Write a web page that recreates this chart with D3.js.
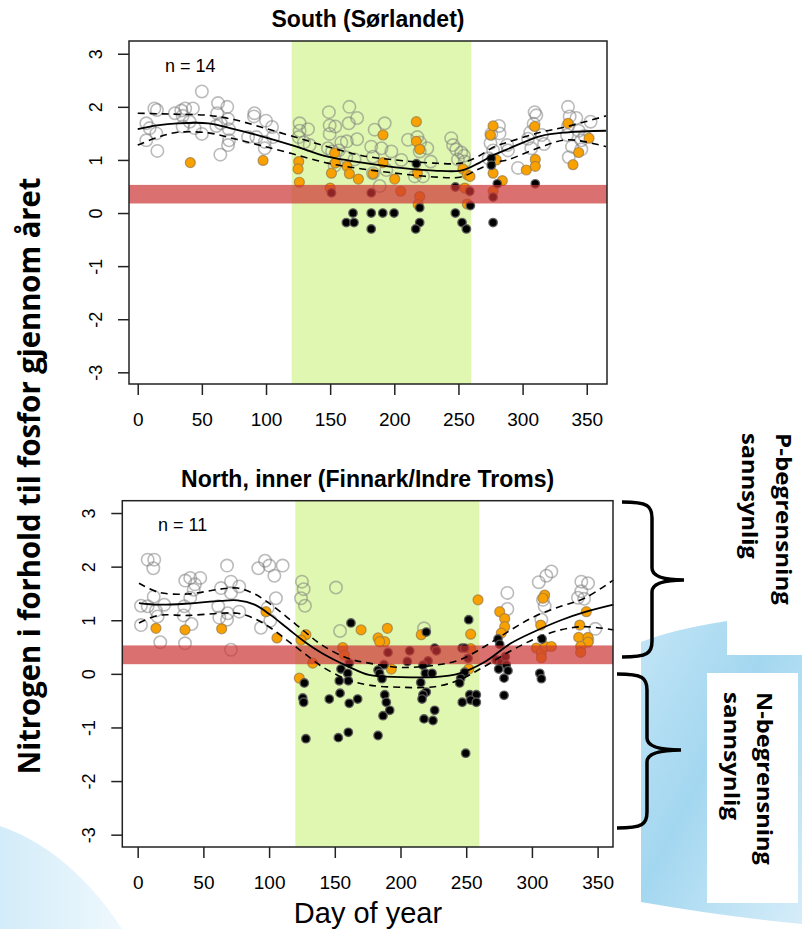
<!DOCTYPE html>
<html>
<head>
<meta charset="utf-8">
<script src="https://cdn.jsdelivr.net/npm/d3@7/dist/d3.min.js"></script>
<style>
  body { margin: 0; background: #fff; }
  svg { display: block; font-family: "Liberation Sans", Arial, sans-serif; }
</style>
</head>
<body>
<script>
// DATA ------------------------------------------------------------
var xTicks = [0, 50, 100, 150, 200, 250, 300, 350];
var yTicks = [-3, -2, -1, 0, 1, 2, 3];
var growingSeason = [120, 260];
var redfieldBand = [0.18, 0.53];

// South (Sørlandet): [day, log N:P]
var southGrey = [[50,2.29],[13,1.97],[15,1.94],[6.7,1.69],[9.3,1.6],[14.5,1.5],[6.7,1.37],[15.3,1.17],
  [29,1.88],[34,1.93],[37,1.97],[43,1.97],[35,1.83],[40.5,1.72],[44.4,1.6],[50,1.49],[35,1.63],
  [62.6,2.07],[69.8,2.0],[62,1.88],[70.4,1.77],[64.7,1.69],[61.3,1.64],[71,1.58],[71.2,1.37],[70.4,1.28],[64.4,1.1],
  [91,1.88],[90.6,1.82],[100,1.74],[104.7,1.62],[86,1.43],[92.5,1.43],[99,1.34],[99,1.22],[105.5,1.43],
  [126.2,1.69],[126.2,1.55],[132.7,1.58],[125.5,1.43],[129.6,1.33],[134,1.28],[149,1.9],[149.6,1.65],[154,1.63],
  [149.6,1.49],[165,2.0],[171,1.79],[164.5,1.69],[171,1.39],[158.7,1.33],[163,1.35],[148.3,1.22],[151.5,1.16],
  [156.7,1.18],[162.6,1.05],[169,1.01],[153.5,0.89],
  [184.7,1.57],[192.5,1.69],[182,1.25],[190,1.22],[197.7,1.16],[205.5,1.0],[183.4,1.06],[183.4,0.75],[188.6,0.51],[193.8,0.81],
  [210.7,1.38],[218,1.43],[220,1.33],[225.7,1.22],[219.8,1.16],[216,0.69],[222.4,0.69],[228.4,0.97],
  [244.4,1.41],[245.8,1.28],[248.3,1.2],[252.2,1.14],[254.3,1.08],[249.6,1.01],[254.9,0.97],
  [275.6,1.49],[275,1.32],[277,1.18],[281.6,1.64],[282,1.5],[288,1.28],[288.6,1.18],[296.4,0.85],[273.6,1.03],
  [309.4,1.9],[310.7,1.84],[308.6,1.68],[306,1.52],[304.2,1.4],[306.8,1.22],[315,1.47],[316.7,1.3],
  [335.4,2.0],[336.7,1.82],[341.9,1.79],[335.4,1.63],[334.6,1.47],[343.7,1.55],[345.8,1.37],[338.5,1.25],
  [345.8,1.2],[336,1.05],[348.4,1.45],[353,1.72]];
var southOrange = [[41,0.95],[97.7,0.99],[125.5,0.97],[125,0.83],[126,0.58],[153.5,1.13],[151,0.75],[163,0.88],
  [165,0.74],[172,0.64],[150,0.47],[154,0.94],
  [191.2,1.47],[191.2,0.95],[183.4,0.74],[200.3,0.64],[205,0.41],[217.2,1.72],[217.2,1.35],[219.8,1.2],[218,0.75],
  [219.8,0.31],[218.6,0.16],[253.5,0.83],[256.9,0.72],[254.9,0.47],[256.9,0.17],[259,0.69],
  [277,1.64],[275,1.47],[279.5,1.0],[277,0.75],[284.2,0.61],[277,0.41],
  [309.4,1.63],[302.9,0.81],[309.9,1.01],[309.9,0.88],[335.4,1.69],[351.8,1.41],[343.7,1.14],[339.3,0.91]];
var southBlack = [[151,0.38],[167.8,0.0],[162.6,-0.18],[168.6,-0.18],
  [182,0.38],[182,0.0],[182,-0.3],[191,0.0],[199.8,0.0],
  [217.2,0.93],[219.8,0.1],[219.8,-0.18],[216.7,-0.3],
  [247.6,0.49],[247.6,0.0],[252.8,-0.18],[256.2,-0.3],[258.8,0.41],[259.3,0.14],
  [275.6,1.03],[275.6,0.9],[280.3,0.55],[277,0.3],[277,-0.18],[309.9,0.55]];
// [day, fit, lower, upper]
var southFit = [[0,1.58,1.28,1.88],[15,1.65,1.42,1.87],[31,1.69,1.52,1.86],[55,1.69,1.51,1.84],[75,1.58,1.40,1.76],
  [96,1.45,1.27,1.62],[120,1.28,1.12,1.45],[148,1.06,0.94,1.25],[175,0.95,0.83,1.08],[205,0.85,0.74,0.99],
  [231,0.80,0.68,0.94],[252,0.80,0.68,0.94],[265,0.93,0.82,1.06],[278,1.10,0.95,1.25],[288,1.20,1.0,1.33],
  [314,1.45,1.24,1.52],[335,1.52,1.38,1.63],[365,1.55,1.25,1.83]];

// North, inner (Finnmark/Indre Troms)
var northGrey = [[7.6,2.13],[12.6,2.13],[11.9,1.97],[68,2.02],[96.9,2.11],[91.8,1.97],[100.2,2.02],[110.3,2.02],[104,1.83],
  [36.2,1.74],[40,1.79],[47.6,1.79],[43.6,1.67],[42.6,1.57],[40,1.42],[35.5,1.26],[35,1.09],[41,0.93],[36,0.57],
  [12.2,1.44],[2.5,1.27],[7.6,1.26],[13.9,1.18],[20.2,1.29],[15.2,1.07],[2.5,0.91],[17.2,0.59],
  [71,1.72],[77.3,1.63],[63.4,1.6],[71,1.51],[61.3,1.26],[68.5,1.13],[62.1,1.05],[68,1.01],[77.3,1.16],[71,0.45],
  [105.2,1.41],[98.9,1.23],[93.8,0.86],[100.9,0.99],
  [125,1.72],[126.3,1.58],[124.3,1.41],[127.3,1.27],[150.9,1.61],[154,0.8],[217.9,0.85],
  [305.2,1.71],[311,1.83],[314.8,1.91],[281.3,1.51],[281.3,1.21],[308.4,1.38],[309.7,1.26],[307.2,1.01],
  [337.6,1.72],[342.7,1.69],[337.6,1.54],[335,1.42],[339.7,1.4],[348.3,0.84],[342.2,0.63]];
var northOrange = [[13.9,0.85],[36,0.82],[63.9,0.84],[97.6,1.16],[106,0.67],[128,0.73],[124.3,0.63],[133.2,0.2],
  [123,-0.08],[170,0.82],[156,0.49],[157.3,0.35],
  [190,0.85],[182.9,0.67],[188,0.6],[184.1,0.6],[193,0.09],[215.8,0.73],[259,1.38],[253.4,0.74],[253.4,0.47],[251.9,0.09],
  [275.5,1.16],[279.3,1.03],[279.3,0.88],[276.7,0.76],[309.7,1.47],[308.4,1.41],[306.7,0.91],[303.3,0.48],
  [307.2,0.4],[310.2,0.51],[314.8,0.51],[307.2,0.3],
  [341.4,1.16],[336.4,0.91],[335.6,0.68],[342.7,0.68],[342.7,0.59],[337.1,0.51],[337.1,0.4]];
var northBlack = [[162.3,0.95],[161,0.2],[154.7,0.09],[159.8,0.01],[153.4,-0.13],[160.3,-0.13],[126.8,-0.17],
  [125.6,-0.45],[126.3,-0.53],[145.8,-0.47],[154,-0.36],[161,-0.55],[167.4,-0.47],[128,-1.21],[152.7,-1.19],[160.3,-1.09],
  [190.5,0.4],[187.4,0.17],[182.9,0.07],[184,0.01],[185.9,-0.09],[188,-0.39],[189.2,-0.53],[191.8,-0.68],[186.7,-0.78],[182.9,-1.15],
  [207,0.43],[205.2,0.23],[219.6,0.78],[226,0.48],[227.3,0.43],[221,0.24],[217.1,0.16],[218.9,0.01],[224,0.01],
  [215.4,-0.16],[219.6,-0.34],[217.1,-0.39],[216.4,-0.47],[226,-0.68],[217.9,-0.84],[224.7,-0.87],
  [246.8,0.48],[248.8,0.48],[251.9,1.01],[251.4,0.29],[248.8,0.03],[245.8,-0.08],[245,-0.17],[252.7,-0.39],
  [257.7,-0.39],[253.4,-0.49],[257.7,-0.53],[247,-0.53],[249.6,-1.48],
  [274.2,0.65],[275.5,0.55],[272.9,0.26],[276.3,0.22],[274.7,0.09],[279.8,0.32],[280.5,0.17],[281.8,0.06],
  [278.8,-0.08],[278.8,-0.4],[307.7,0.65],[306,0.01],[307.2,-0.09]];
var northFit = [[1,1.32,0.95,1.69],[16,1.29,1.09,1.52],[38,1.31,1.09,1.49],[63,1.36,1.13,1.58],[76,1.37,1.13,1.6],
  [89,1.29,1.03,1.49],[101,1.1,0.86,1.3],[114,0.85,0.62,1.05],[127,0.6,0.38,0.79],[140,0.39,0.14,0.54],
  [160,0.14,-0.11,0.29],[176,-0.02,-0.21,0.2],[200,-0.06,-0.25,0.12],[226,-0.06,-0.24,0.16],[245,0.01,-0.11,0.26],
  [264,0.22,0.14,0.51],[284,0.57,0.43,0.82],[302,0.79,0.65,1.07],[322,1.0,0.82,1.26],[340,1.15,0.88,1.41],
  [362,1.29,0.82,1.75]];
// END --------------------------------------------------------------------------

var svg = d3.select("body")
	.append("svg")
	.attr("width", 802)
	.attr("height", 929);

// SLIDE BACKGROUND ------------------------------------------------------------
var defs = svg.append("defs");
var blue = defs.append("linearGradient").attr("id", "blue")
	.attr("x1", 0).attr("y1", 0).attr("x2", 1).attr("y2", 1);
blue.append("stop").attr("offset", "0%").attr("stop-color", "#c3e5f6");
blue.append("stop").attr("offset", "45%").attr("stop-color", "#a3d7f0");
blue.append("stop").attr("offset", "100%").attr("stop-color", "#d6edf9");
var blue2 = defs.append("linearGradient").attr("id", "blue2")
	.attr("x1", 0).attr("y1", 0).attr("x2", 1).attr("y2", 0);
blue2.append("stop").attr("offset", "0%").attr("stop-color", "#d3ecf9");
blue2.append("stop").attr("offset", "100%").attr("stop-color", "#eef8fd");

svg.append("path")
	.attr("d", "M641,642 Q690,622 802,612 L802,924 Q720,916 641,902 Z")
	.style("fill", "url(#blue)");
svg.append("rect")
	.attr("x", 727).attr("y", 400).attr("width", 75).attr("height", 255)
	.style("fill", "#fff");
svg.append("path")
	.attr("d", "M0,826 Q70,850 122,929 L0,929 Z")
	.style("fill", "url(#blue2)");

// PANELS ------------------------------------------------------------
var panels = [
	{title: "South (Sørlandet)", n: "n = 14", grey: southGrey, orange: southOrange, black: southBlack, fit: southFit,
	 left: 129, right: 607, top: 41, bottom: 384, xDomain: [-6.8, 365.8], yDomain: [-3.22, 3.24],
	 titleY: 27, nX: 165, nY: 72},
	{title: "North, inner (Finnark/Indre Troms)", n: "n = 11", grey: northGrey, orange: northOrange, black: northBlack, fit: northFit,
	 left: 122.3, right: 613, top: 500.7, bottom: 847, xDomain: [-11.7, 361.7], yDomain: [-3.23, 3.23],
	 titleY: 487, nX: 158, nY: 531}
];

function drawPanel(p) {
	var x = d3.scaleLinear().domain(p.xDomain).range([p.left, p.right]);
	var y = d3.scaleLinear().domain(p.yDomain).range([p.bottom, p.top]);
	var g = svg.append("g");

	g.append("rect")
		.attr("x", p.left).attr("y", p.top)
		.attr("width", p.right - p.left).attr("height", p.bottom - p.top)
		.style("fill", "#fff");

	// growing season
	g.append("rect")
		.attr("x", x(growingSeason[0])).attr("y", p.top)
		.attr("width", x(growingSeason[1]) - x(growingSeason[0]))
		.attr("height", p.bottom - p.top)
		.style("fill", "#dff7b1");

	g.selectAll("circle.grey")
		.data(p.grey).enter()
		.append("circle").attr("class", "grey")
		.attr("cx", function(d) { return x(d[0]); })
		.attr("cy", function(d) { return y(d[1]); })
		.attr("r", 6.2)
		.style("fill", "none")
		.style("stroke", "rgba(120,120,120,0.5)")
		.style("stroke-width", 1.6);

	g.selectAll("circle.orange")
		.data(p.orange).enter()
		.append("circle").attr("class", "orange")
		.attr("cx", function(d) { return x(d[0]); })
		.attr("cy", function(d) { return y(d[1]); })
		.attr("r", 5)
		.style("fill", "#f9a100")
		.style("stroke", "rgba(150,120,70,0.7)")
		.style("stroke-width", 1.2);

	g.selectAll("circle.black")
		.data(p.black).enter()
		.append("circle").attr("class", "black")
		.attr("cx", function(d) { return x(d[0]); })
		.attr("cy", function(d) { return y(d[1]); })
		.attr("r", 4.2)
		.style("fill", "#000")
		.style("stroke", "rgba(90,90,90,0.9)")
		.style("stroke-width", 1.4);

	// Redfield band
	g.append("rect")
		.attr("x", p.left).attr("y", y(redfieldBand[1]))
		.attr("width", p.right - p.left)
		.attr("height", y(redfieldBand[0]) - y(redfieldBand[1]))
		.style("fill", "#cc3333")
		.style("opacity", 0.7);

	// fitted seasonal curve with confidence band
	[1, 2, 3].forEach(function(k) {
		var line = d3.line()
			.x(function(d) { return x(d[0]); })
			.y(function(d) { return y(d[k]); })
			.curve(d3.curveCatmullRom);
		g.append("path")
			.attr("d", line(p.fit))
			.style("fill", "none")
			.style("stroke", "#000")
			.style("stroke-width", k == 1 ? 1.8 : 1.6)
			.style("stroke-dasharray", k == 1 ? null : "7,5");
	});

	g.append("rect")
		.attr("x", p.left).attr("y", p.top)
		.attr("width", p.right - p.left).attr("height", p.bottom - p.top)
		.style("fill", "none")
		.style("stroke", "#222")
		.style("stroke-width", 1.5);

	var xAxis = g.append("g")
		.attr("transform", "translate(0," + p.bottom + ")")
		.call(d3.axisBottom(x).tickValues(xTicks).tickSize(11).tickPadding(18));
	var yAxis = g.append("g")
		.attr("transform", "translate(" + p.left + ",0)")
		.call(d3.axisLeft(y).tickValues(yTicks).tickSize(11).tickFormat(function(d) { return String(d); }));
	[xAxis, yAxis].forEach(function(a) {
		a.select(".domain").remove();
		a.selectAll("line").style("stroke", "#222").style("stroke-width", 1.5);
		a.selectAll("text")
			.style("font-family", "Liberation Sans, Arial, sans-serif")
			.style("font-size", "19px")
			.style("fill", "#000");
	});
	yAxis.selectAll("text")
		.attr("transform", "rotate(-90)")
		.attr("x", 0).attr("y", -27).attr("dy", 0)
		.attr("text-anchor", "middle")
		.style("font-size", "18px");

	g.append("text")
		.attr("x", (p.left + p.right) / 2).attr("y", p.titleY)
		.attr("text-anchor", "middle")
		.style("font-size", "23px")
		.style("font-weight", "bold")
		.text(p.title);

	g.append("text")
		.attr("x", p.nX).attr("y", p.nY)
		.style("font-size", "18px")
		.text(p.n);
}

panels.forEach(drawPanel);

// LABELS ------------------------------------------------------------
svg.append("text")
	.attr("x", 368).attr("y", 923)
	.attr("text-anchor", "middle")
	.style("font-size", "29px")
	.text("Day of year");

svg.append("text")
	.attr("transform", "translate(40,476) rotate(-90)")
	.attr("text-anchor", "middle")
	.attr("textLength", 597)
	.attr("lengthAdjust", "spacingAndGlyphs")
	.style("font-family", "Open Sans, sans-serif")
	.style("font-size", "30px")
	.style("font-weight", "bold")
	.text("Nitrogen i forhold til fosfor gjennom året");

// curly braces
function brace(x0, xv, xTip, yTop, yMid, yBot) {
	return "M" + x0 + "," + yTop +
		" C" + (xv - 4) + "," + yTop + " " + xv + "," + (yTop + 4) + " " + xv + "," + (yTop + 16) +
		" L" + xv + "," + (yMid - 12) +
		" Q" + xv + "," + yMid + " " + xTip + "," + yMid +
		" Q" + xv + "," + yMid + " " + xv + "," + (yMid + 12) +
		" L" + xv + "," + (yBot - 16) +
		" C" + xv + "," + (yBot - 4) + " " + (xv - 4) + "," + yBot + " " + x0 + "," + yBot;
}
svg.append("path")
	.attr("d", brace(622, 652, 684, 502, 580, 657))
	.style("fill", "none").style("stroke", "#000").style("stroke-width", 3.5);
svg.append("path")
	.attr("d", brace(617, 647, 681, 674, 750, 828))
	.style("fill", "none").style("stroke", "#000").style("stroke-width", 3.5);

svg.append("rect")
	.attr("x", 707).attr("y", 673).attr("width", 91).attr("height", 230)
	.style("fill", "#fff");

var sideLabels = [
	{t: "P-begrensning", x: 776, y: 433, len: 172},
	{t: "sannsynlig", x: 742, y: 433, len: 126},
	{t: "N-begrensning", x: 757, y: 692, len: 173},
	{t: "sannsynlig", x: 724, y: 692, len: 128}
];
svg.selectAll("text.side")
	.data(sideLabels).enter()
	.append("text").attr("class", "side")
	.attr("transform", function(d) { return "translate(" + d.x + "," + d.y + ") rotate(90)"; })
	.attr("textLength", function(d) { return d.len; })
	.attr("lengthAdjust", "spacingAndGlyphs")
	.style("font-family", "Open Sans, sans-serif")
	.style("font-size", "22px")
	.style("font-weight", "bold")
	.text(function(d) { return d.t; });
</script>
</body>
</html>
